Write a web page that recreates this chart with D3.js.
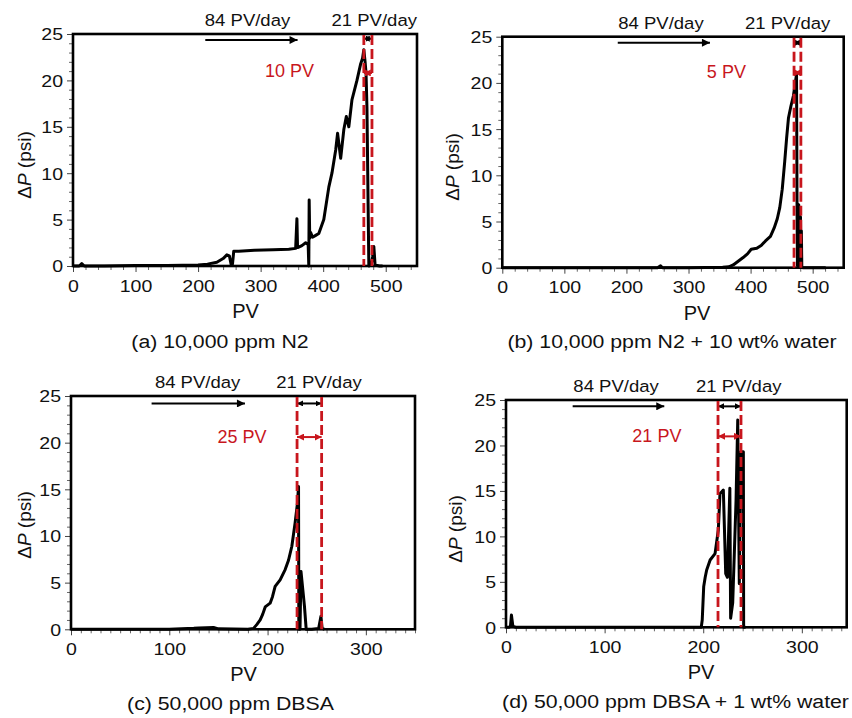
<!DOCTYPE html>
<html><head><meta charset="utf-8">
<script src="https://cdn.jsdelivr.net/npm/d3@7"></script>
<style>
body{margin:0;background:#fff}
text{font-family:"Liberation Sans",Arial,Helvetica,sans-serif;fill:#111}
</style>
</head><body>
<svg id="chart" width="852" height="718"></svg>
<script>
// ---------------- DATA ----------------
// (a) 10,000 ppm N2
const pvA = [0, 10, 14, 18, 50, 100, 150, 200, 215, 230, 240, 246, 250, 253, 255, 257, 265, 290, 320, 345, 356, 358, 359, 360, 366, 372, 376, 377, 377.6, 378.5, 380, 383, 388, 393, 401, 409, 414, 420, 423, 428, 433, 437, 441, 446, 454, 460, 463, 465, 467, 468.5, 470, 473, 477, 479, 481, 483, 490, 495];
const dpA = [0, 0, 0.25, 0, 0, 0.05, 0.05, 0.1, 0.2, 0.4, 0.8, 1.2, 1.1, 0.1, 0.2, 1.6, 1.6, 1.7, 1.75, 1.8, 1.9, 5.1, 2.0, 2.0, 2.2, 2.5, 2.3, 0, 7.1, 3.0, 3.6, 3.1, 3.3, 3.5, 5.0, 8.5, 10, 12.5, 14.3, 11.6, 14.7, 16.1, 15.0, 17.9, 20, 21.8, 22.4, 23.3, 22.0, 20.8, 17, 0, 0.2, 1.0, 2.1, 0.1, 0, 0];
// (b) 10,000 ppm N2 + 10 wt% water
const pvB = [0, 100, 200, 250, 255, 258, 300, 355, 365, 372, 380, 388, 395, 401, 410, 417, 424, 432, 438, 443, 447, 451, 455, 458, 461, 465, 469, 472, 474, 474.8, 475.5, 476.2, 476.9, 477.6, 478.3, 479, 479.7, 480.4, 481.1, 481.8, 482.5, 484, 500, 521];
const dpB = [0, 0, 0, 0, 0.2, 0, 0, 0.05, 0.1, 0.3, 0.7, 1.1, 1.5, 2.0, 2.1, 2.4, 2.9, 3.4, 4.3, 5.3, 6.5, 8.5, 11.5, 14, 16.2, 17.5, 18.6, 20, 20.9, 7.3, 0.2, 6.5, 0.3, 6.8, 0.2, 6.0, 0.3, 5.5, 0.2, 4.0, 0.1, 0, 0, 0];
// (c) 50,000 ppm DBSA
const pvC = [0, 50, 100, 125, 130, 145, 150, 180, 185.7, 189, 192.5, 195, 197.6, 202.6, 205, 207.7, 212.8, 217.9, 221.3, 224.7, 228, 230.4, 231.5, 231.8, 233, 234, 235.9, 237.5, 239.3, 245, 252, 254.3, 255.5, 258];
const dpC = [0, 0, 0, 0.1, 0.15, 0.2, 0.05, 0, 0.1, 0.5, 1.0, 1.6, 2.4, 2.8, 3.5, 4.6, 5.3, 6.4, 7.4, 8.9, 11.4, 13.5, 15.3, 0, 0, 6.2, 4.2, 2.5, 0, 0, 0.1, 1.4, 0.1, 0];
// (d) 50,000 ppm DBSA + 1 wt% water
const pvD = [0, 3, 4.5, 5.5, 7, 10, 100, 198, 199, 200.5, 202, 203.5, 207, 212, 215.3, 217, 220.4, 222.8, 224.5, 227, 227.8, 229.9, 233.3, 235, 236.6, 238.3, 240.7, 241, 243];
const dpD = [0, 0, 0.1, 1.35, 0.1, 0, 0, 0, 0.8, 4.5, 5.5, 6.3, 7.4, 8.1, 10.7, 14.7, 15.1, 5.9, 5.5, 15.3, 1.0, 2.7, 14, 22.8, 4.8, 19.3, 19.3, 0, 0];

// annotations (PV units)
const redLinesA = [465, 478], redLinesB = [470, 481], redLinesC = [230, 255], redLinesD = [215, 238.3];
const rateArrowA = [211.5, 359], rateArrowB = [186, 334.5], rateArrowC = [82, 177], rateArrowD = [67.6, 160.5];
const redLabels = ["10 PV", "5 PV", "25 PV", "21 PV"];
const rateLabels = ["84 PV/day", "21 PV/day"];
const captions = ["(a) 10,000 ppm N2", "(b) 10,000 ppm N2 + 10 wt% water", "(c) 50,000 ppm DBSA", "(d) 50,000 ppm DBSA + 1 wt% water"];
const yTicks = [0, 5, 10, 15, 20, 25];
const xTicksAB = [0, 100, 200, 300, 400, 500];
const xTicksCD = [0, 100, 200, 300];

// ---------------- LAYOUT ----------------
const RED = "#c8161d";
const svg = d3.select("#chart");
const defs = svg.append("defs");
function marker(id, color, w, h) {
  defs.append("marker").attr("id", id).attr("viewBox", "0 0 10 10")
    .attr("refX", 10).attr("refY", 5).attr("markerUnits", "userSpaceOnUse")
    .attr("markerWidth", w).attr("markerHeight", h).attr("orient", "auto-start-reverse")
    .append("path").attr("d", "M0,0L10,5L0,10z").attr("fill", color);
}
marker("ahBig", "#000", 9, 8);
marker("ahSmall", "#000", 6, 6);
marker("ahRed", RED, 7, 7);

const panels = [
  {pv: pvA, dp: dpA, box: [73, 34, 417, 266], xMax: 550, xt: xTicksAB, minor: 20,
   red: redLinesA, rate: rateArrowA, blackY: 24.5, redY: 20.8, rateY: 24.35,
   rateLabelPV: [279, 481.6], redLabelPos: [346, 20.4], cap: [220, 348], pvTitleX: 245.5, yl: [25, 165]},
  {pv: pvB, dp: dpB, box: [502.3, 36.7, 843.7, 267.7], xMax: 550, xt: xTicksAB, minor: 20,
   red: redLinesB, rate: rateArrowB, blackY: 24.35, redY: 21.1, rateY: 24.35,
   rateLabelPV: [255.6, 459.7], redLabelPos: [361, 20.5], cap: [672, 348], pvTitleX: 697, yl: [453, 167]},
  {pv: pvC, dp: dpC, box: [71, 396, 415, 629.3], xMax: 350, xt: xTicksCD, minor: 10,
   red: redLinesC, rate: rateArrowC, blackY: 24.2, redY: 20.6, rateY: 24.2,
   rateLabelPV: [128.8, 252.3], redLabelPos: [174, 20.0], cap: [230.5, 710], pvTitleX: 243.5, yl: [25, 525]},
  {pv: pvD, dp: dpD, box: [506, 400, 846.7, 627.3], xMax: 345.5, xt: xTicksCD, minor: 10,
   red: redLinesD, rate: rateArrowD, blackY: 24.3, redY: 21.0, rateY: 24.3,
   rateLabelPV: [111.6, 236], redLabelPos: [153, 20.4], cap: [675.5, 708], pvTitleX: 701, yl: [456, 529]}
];

function stretchText(g, x, y, str, size, k, anchor, color) {
  return g.append("text").attr("transform", `translate(${x},${y}) scale(${k},1)`)
    .attr("text-anchor", anchor || "middle").attr("font-size", size)
    .style("fill", color || "#111").text(str);
}

panels.forEach((p, i) => {
  const [l, t, r, b] = p.box;
  const x = d3.scaleLinear().domain([0, p.xMax]).range([l, r]);
  const y = d3.scaleLinear().domain([0, 25]).range([b, t]);
  const g = svg.append("g");

  // minor ticks
  const xMinor = d3.range(0, p.xMax + 0.01, p.minor).filter(v => v % 100 !== 0);
  g.append("g").attr("transform", `translate(0,${b})`)
    .call(d3.axisBottom(x).tickValues(xMinor).tickSize(4).tickFormat(""))
    .call(a => a.select(".domain").remove())
    .call(a => a.selectAll("line").attr("stroke", "#666"));
  const yMinor = d3.range(0, 25.01, 1).filter(v => v % 5 !== 0);
  g.append("g").attr("transform", `translate(${l},0)`)
    .call(d3.axisLeft(y).tickValues(yMinor).tickSize(4).tickFormat(""))
    .call(a => a.select(".domain").remove())
    .call(a => a.selectAll("line").attr("stroke", "#666"));
  // major ticks
  const xa = g.append("g").attr("transform", `translate(0,${b})`)
    .call(d3.axisBottom(x).tickValues(p.xt).tickSize(6).tickPadding(0).tickFormat(d3.format("d")));
  xa.select(".domain").remove();
  xa.selectAll("line").attr("stroke", "#444");
  xa.selectAll("text").attr("font-size", 17).attr("y", 0).attr("dy", null)
    .attr("transform", "translate(0,25.5) scale(1.15,1)").style("fill", "#111");
  const ya = g.append("g").attr("transform", `translate(${l},0)`)
    .call(d3.axisLeft(y).tickValues(yTicks).tickSize(6).tickPadding(0));
  ya.select(".domain").remove();
  ya.selectAll("line").attr("stroke", "#444");
  ya.selectAll("text").attr("font-size", 17).attr("x", 0).attr("dy", "0.35em")
    .attr("transform", "translate(-10,0) scale(1.15,1)").style("fill", "#111");

  // curve
  const pts = p.pv.map((v, k) => [v, p.dp[k]]);
  g.append("path").datum(pts)
    .attr("d", d3.line().x(d => x(d[0])).y(d => y(d[1])))
    .attr("fill", "none").attr("stroke", "#000").attr("stroke-width", 3)
    .attr("stroke-linejoin", "round");

  // frame
  g.append("rect").attr("x", l).attr("y", t).attr("width", r - l).attr("height", b - t)
    .attr("fill", "none").attr("stroke", "#000").attr("stroke-width", 2.6);

  // rate arrow 84 PV/day
  g.append("line").attr("x1", x(p.rate[0])).attr("x2", x(p.rate[1]))
    .attr("y1", y(p.rateY)).attr("y2", y(p.rateY))
    .attr("stroke", "#000").attr("stroke-width", 2).attr("marker-end", "url(#ahBig)");
  // black double arrow 21 PV/day
  g.append("line").attr("x1", x(p.red[0])).attr("x2", x(p.red[1]))
    .attr("y1", y(p.blackY)).attr("y2", y(p.blackY))
    .attr("stroke", "#000").attr("stroke-width", 2)
    .attr("marker-start", "url(#ahSmall)").attr("marker-end", "url(#ahSmall)");
  // red dashed lines
  p.red.forEach(v => {
    g.append("line").attr("x1", x(v)).attr("x2", x(v)).attr("y1", t + 1).attr("y2", b)
      .attr("stroke", RED).attr("stroke-width", 2.8).attr("stroke-dasharray", "10,4");
  });
  // red double arrow
  g.append("line").attr("x1", x(p.red[0])).attr("x2", x(p.red[1]))
    .attr("y1", y(p.redY)).attr("y2", y(p.redY))
    .attr("stroke", RED).attr("stroke-width", 2)
    .attr("marker-start", "url(#ahRed)").attr("marker-end", "url(#ahRed)");

  // texts
  stretchText(g, x(p.rateLabelPV[0]), t - 8, rateLabels[0], 17, 1.09);
  stretchText(g, x(p.rateLabelPV[1]), t - 8, rateLabels[1], 17, 1.09);
  stretchText(g, x(p.redLabelPos[0]), y(p.redLabelPos[1]), redLabels[i], 18, 1.0, "middle", RED);
  g.append("text").attr("x", p.pvTitleX).attr("y", b + 52).attr("text-anchor", "middle")
    .attr("font-size", 20).text("PV");
  const ylab = g.append("text").attr("transform", `translate(${p.yl[0] + 6},${p.yl[1]}) rotate(-90)`)
    .attr("text-anchor", "middle").attr("font-size", 19);
  ylab.append("tspan").text("Δ");
  ylab.append("tspan").attr("font-style", "italic").text("P");
  ylab.append("tspan").text(" (psi)");
  stretchText(g, p.cap[0], p.cap[1], captions[i], 19, 1.12);
});
</script>
</body></html>
